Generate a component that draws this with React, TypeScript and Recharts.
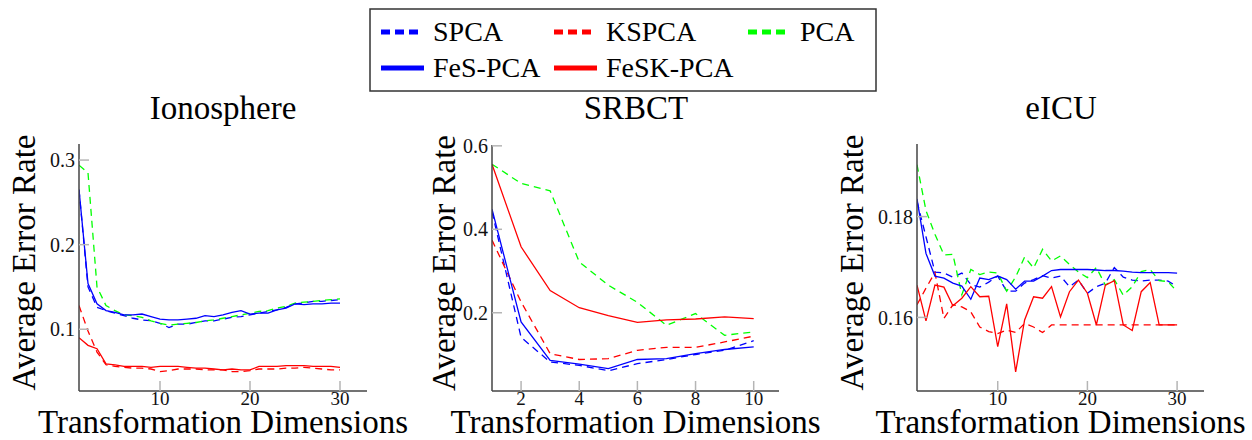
import React from "react";
import { LineChart, Line, XAxis, YAxis } from "recharts";

const FONT = "Liberation Serif, DejaVu Serif, serif";
const BLUE = "#0000ff";
const RED = "#ff0000";
const GREEN = "#00ff00";
const FRAME = "#454545";
const TICK = "#b5b5b5";
const DASH = "7 5";

// transformation dimensions
const dims30 = [1, 2, 3, 4, 5, 6, 7, 8, 9, 10, 11, 12, 13, 14, 15, 16, 17, 18, 19, 20, 21, 22, 23, 24, 25, 26, 27, 28, 29, 30];
const dims10 = [1, 2, 3, 4, 5, 6, 7, 8, 9, 10];

// Ionosphere
const ionoSpca = [0.265, 0.15, 0.126, 0.122, 0.119, 0.116, 0.113, 0.111, 0.11, 0.107, 0.102, 0.106, 0.106, 0.108, 0.11, 0.11, 0.112, 0.114, 0.115, 0.117, 0.119, 0.121, 0.123, 0.126, 0.13, 0.131, 0.133, 0.133, 0.134, 0.135];
const ionoKspca = [0.128, 0.098, 0.073, 0.058, 0.056, 0.055, 0.054, 0.054, 0.053, 0.05, 0.051, 0.053, 0.053, 0.053, 0.052, 0.052, 0.052, 0.05, 0.05, 0.051, 0.053, 0.053, 0.053, 0.054, 0.054, 0.055, 0.054, 0.053, 0.052, 0.052];
const ionoPca = [0.294, 0.285, 0.15, 0.128, 0.122, 0.117, 0.116, 0.114, 0.11, 0.107, 0.105, 0.106, 0.107, 0.108, 0.11, 0.111, 0.113, 0.115, 0.117, 0.119, 0.121, 0.122, 0.125, 0.127, 0.131, 0.132, 0.133, 0.134, 0.135, 0.136];
const ionoFesPca = [0.265, 0.154, 0.13, 0.122, 0.12, 0.117, 0.117, 0.118, 0.115, 0.112, 0.111, 0.111, 0.112, 0.113, 0.116, 0.115, 0.117, 0.12, 0.122, 0.118, 0.119, 0.119, 0.123, 0.125, 0.13, 0.129, 0.13, 0.13, 0.131, 0.131];
const ionoFeskPca = [0.09, 0.081, 0.077, 0.059, 0.058, 0.056, 0.056, 0.056, 0.055, 0.056, 0.056, 0.056, 0.055, 0.054, 0.054, 0.053, 0.052, 0.053, 0.052, 0.052, 0.056, 0.056, 0.056, 0.057, 0.057, 0.057, 0.056, 0.056, 0.056, 0.055];

// SRBCT
const srbctSpca = [0.442, 0.141, 0.082, 0.074, 0.061, 0.078, 0.088, 0.1, 0.11, 0.133];
const srbctKspca = [0.374, 0.226, 0.102, 0.088, 0.09, 0.11, 0.117, 0.117, 0.13, 0.144];
const srbctPca = [0.556, 0.51, 0.492, 0.322, 0.266, 0.225, 0.17, 0.198, 0.146, 0.154];
const srbctFesPca = [0.448, 0.178, 0.086, 0.077, 0.066, 0.088, 0.09, 0.102, 0.112, 0.118];
const srbctFeskPca = [0.556, 0.358, 0.253, 0.212, 0.193, 0.177, 0.183, 0.185, 0.19, 0.186];

// eICU
const eicuSpca = [0.183, 0.176, 0.169, 0.1688, 0.168, 0.1688, 0.1665, 0.166, 0.167, 0.1682, 0.1652, 0.1652, 0.1668, 0.1675, 0.1683, 0.1678, 0.1682, 0.1661, 0.1674, 0.1648, 0.1661, 0.1668, 0.1699, 0.168, 0.1674, 0.1672, 0.1674, 0.1674, 0.1672, 0.1661];
const eicuKspca = [0.1625, 0.1658, 0.1689, 0.1598, 0.1625, 0.1621, 0.1611, 0.1581, 0.1572, 0.1568, 0.1575, 0.157, 0.1588, 0.1581, 0.157, 0.1585, 0.1585, 0.1585, 0.1585, 0.1585, 0.1585, 0.1585, 0.1585, 0.1585, 0.1585, 0.1585, 0.1585, 0.1585, 0.1585, 0.1585];
const eicuPca = [0.1903, 0.1812, 0.1765, 0.1724, 0.1725, 0.1645, 0.1695, 0.1685, 0.169, 0.1688, 0.1652, 0.168, 0.172, 0.1698, 0.1735, 0.1712, 0.1722, 0.1705, 0.169, 0.1679, 0.1699, 0.1664, 0.1675, 0.1644, 0.1661, 0.1691, 0.1695, 0.1673, 0.1671, 0.1651];
const eicuFesPca = [0.1835, 0.1727, 0.1682, 0.1678, 0.1668, 0.1662, 0.1636, 0.1678, 0.1675, 0.1682, 0.1675, 0.1656, 0.1672, 0.1672, 0.1682, 0.1693, 0.1695, 0.1695, 0.1695, 0.1695, 0.1694, 0.1693, 0.1693, 0.1692, 0.169, 0.1689, 0.1689, 0.1689, 0.1689, 0.1688];
const eicuFeskPca = [0.1664, 0.1593, 0.1664, 0.166, 0.1623, 0.1638, 0.1661, 0.1641, 0.1642, 0.1542, 0.1627, 0.1492, 0.1595, 0.1641, 0.1638, 0.1661, 0.1601, 0.1651, 0.1674, 0.1648, 0.1585, 0.1664, 0.1673, 0.1585, 0.1574, 0.1651, 0.1669, 0.1585, 0.1585, 0.1585];

// tick values
const ticks30 = [10, 20, 30];
const ticks10 = [2, 4, 6, 8, 10];
const ionoYTicks = [0.1, 0.2, 0.3];
const srbctYTicks = [0.2, 0.4, 0.6];
const eicuYTicks = [0.16, 0.18];

const legendItems = [
  { name: "SPCA", color: BLUE, dashed: true },
  { name: "KSPCA", color: RED, dashed: true },
  { name: "PCA", color: GREEN, dashed: true },
  { name: "FeS-PCA", color: BLUE, dashed: false },
  { name: "FeSK-PCA", color: RED, dashed: false },
];

const CHART_TOP = 95;
const CHART_H = 345;
const Y_AXIS_W = 45;
const X_AXIS_H = 30;

interface PanelProps {
  dims: number[];
  spca: number[];
  kspca: number[];
  pca: number[];
  fesPca: number[];
  feskPca: number[];
  xDomain: [number, number];
  yDomain: [number, number];
  xTicks: number[];
  yTicks: number[];
  left: number;
  width: number;
  plotLeft: number;
  plotRight: number;
  plotTop: number;
  plotBottom: number;
  labelGap: number;
}

const tickStyle = { fontFamily: FONT, fontSize: 19, fill: "#111" };

const ErrorPanel: React.FC<PanelProps> = (p) => {
  const data = p.dims.map((x, i) => ({
    x,
    spca: p.spca[i],
    kspca: p.kspca[i],
    pca: p.pca[i],
    fesPca: p.fesPca[i],
    feskPca: p.feskPca[i],
  }));
  const margin = {
    top: p.plotTop - CHART_TOP,
    bottom: CHART_TOP + CHART_H - p.plotBottom - X_AXIS_H,
    left: p.plotLeft - p.left - Y_AXIS_W,
    right: p.left + p.width - p.plotRight,
  };
  const plotH = p.plotBottom - p.plotTop;
  const yLabelX = p.plotLeft - p.left - p.labelGap;
  const yLabelY = p.plotTop - CHART_TOP + plotH / 2 - 5;
  const xLabelX = (p.plotLeft + p.plotRight) / 2 - p.left;

  return (
    <div style={{ position: "absolute", left: p.left, top: CHART_TOP, width: p.width, height: CHART_H }}>
      <LineChart width={p.width} height={CHART_H} data={data} margin={margin} style={{ overflow: "visible" }}>
        <XAxis
          xAxisId="b"
          type="number"
          dataKey="x"
          domain={p.xDomain}
          ticks={p.xTicks}
          interval={0}
          allowDataOverflow
          height={X_AXIS_H}
          tickSize={-10}
          tickMargin={11}
          axisLine={{ stroke: FRAME, strokeWidth: 1.5 }}
          tickLine={{ stroke: TICK, strokeWidth: 1.5 }}
          tick={tickStyle}
        />
        <XAxis
          xAxisId="t"
          orientation="top"
          type="number"
          dataKey="x"
          domain={p.xDomain}
          ticks={p.xTicks}
          interval={0}
          allowDataOverflow
          height={0}
          tickSize={-10}
          tickFormatter={() => ""}
          axisLine={{ stroke: FRAME, strokeWidth: 1.5 }}
          tickLine={{ stroke: TICK, strokeWidth: 1.5 }}
        />
        <YAxis
          yAxisId="l"
          type="number"
          domain={p.yDomain}
          ticks={p.yTicks}
          interval={0}
          allowDataOverflow
          width={Y_AXIS_W}
          tickSize={-10}
          tickMargin={14}
          axisLine={{ stroke: FRAME, strokeWidth: 1.5 }}
          tickLine={{ stroke: TICK, strokeWidth: 1.5 }}
          tick={{ ...tickStyle, fontSize: 20 }}
          tickFormatter={(v: number) => String(v)}
        />
        <YAxis
          yAxisId="r"
          orientation="right"
          type="number"
          domain={p.yDomain}
          ticks={p.yTicks}
          interval={0}
          allowDataOverflow
          width={0}
          tickSize={-10}
          tickFormatter={() => ""}
          axisLine={{ stroke: FRAME, strokeWidth: 1.5 }}
          tickLine={{ stroke: TICK, strokeWidth: 1.5 }}
        />
        <Line xAxisId="b" yAxisId="l" type="linear" dataKey="spca" stroke={BLUE} strokeWidth={1.3} strokeDasharray={DASH} dot={false} isAnimationActive={false} />
        <Line xAxisId="b" yAxisId="l" type="linear" dataKey="kspca" stroke={RED} strokeWidth={1.3} strokeDasharray={DASH} dot={false} isAnimationActive={false} />
        <Line xAxisId="b" yAxisId="l" type="linear" dataKey="pca" stroke={GREEN} strokeWidth={1.3} strokeDasharray={DASH} dot={false} isAnimationActive={false} />
        <Line xAxisId="b" yAxisId="l" type="linear" dataKey="fesPca" stroke={BLUE} strokeWidth={1.3} dot={false} isAnimationActive={false} />
        <Line xAxisId="b" yAxisId="l" type="linear" dataKey="feskPca" stroke={RED} strokeWidth={1.3} dot={false} isAnimationActive={false} />
        <text
          x={yLabelX}
          y={yLabelY}
          transform={`rotate(-90 ${yLabelX} ${yLabelY})`}
          textAnchor="middle"
          fontFamily={FONT}
          fontSize={33}
          fill="#000"
        >
          Average Error Rate
        </text>
        <text x={xLabelX} y={338} textAnchor="middle" fontFamily={FONT} fontSize={33} fill="#000">
          Transformation Dimensions
        </text>
      </LineChart>
    </div>
  );
};

const Legend: React.FC = () => {
  // three columns, two rows
  const colX = [11, 184, 378];
  const rowY = [23, 59];
  return (
    <g transform="translate(370 9)">
      <rect x={0} y={0} width={506} height={82} fill="#fff" stroke="#333" strokeWidth={1.5} />
      {legendItems.map((it, i) => {
        const cx = colX[i % 3];
        const cy = rowY[Math.floor(i / 3)];
        return (
          <g key={it.name}>
            <line
              x1={cx}
              x2={cx + (it.dashed ? 38 : 43)}
              y1={cy}
              y2={cy}
              stroke={it.color}
              strokeWidth={5}
              strokeDasharray={it.dashed ? "9 5" : undefined}
            />
            <text x={cx + 52} y={cy + 9} fontFamily={FONT} fontSize={28} fill="#000">
              {it.name}
            </text>
          </g>
        );
      })}
    </g>
  );
};

const titles = [
  { text: "Ionosphere", x: 223 },
  { text: "SRBCT", x: 636 },
  { text: "eICU", x: 1061 },
];

export default function App() {
  return (
    <div style={{ position: "absolute", left: 0, top: 0, width: 1252, height: 440, background: "#fff", overflow: "hidden", fontFamily: FONT }}>
      <ErrorPanel
        dims={dims30}
        spca={ionoSpca}
        kspca={ionoKspca}
        pca={ionoPca}
        fesPca={ionoFesPca}
        feskPca={ionoFeskPca}
        xDomain={[1, 33]}
        yDomain={[0.027, 0.319]}
        xTicks={ticks30}
        yTicks={ionoYTicks}
        left={0}
        width={420}
        plotLeft={79}
        plotRight={367}
        plotTop={144}
        plotBottom={391}
        labelGap={44}
      />
      <ErrorPanel
        dims={dims10}
        spca={srbctSpca}
        kspca={srbctKspca}
        pca={srbctPca}
        fesPca={srbctFesPca}
        feskPca={srbctFeskPca}
        xDomain={[1, 10.87]}
        yDomain={[0.0125, 0.602]}
        xTicks={ticks10}
        yTicks={srbctYTicks}
        left={415}
        width={420}
        plotLeft={492}
        plotRight={779}
        plotTop={145}
        plotBottom={391}
        labelGap={37}
      />
      <ErrorPanel
        dims={dims30}
        spca={eicuSpca}
        kspca={eicuKspca}
        pca={eicuPca}
        fesPca={eicuFesPca}
        feskPca={eicuFeskPca}
        xDomain={[1, 33]}
        yDomain={[0.1454, 0.1944]}
        xTicks={ticks30}
        yTicks={eicuYTicks}
        left={835}
        width={417}
        plotLeft={917}
        plotRight={1204}
        plotTop={144}
        plotBottom={391}
        labelGap={54}
      />
      <svg width={1252} height={440} style={{ position: "absolute", left: 0, top: 0, pointerEvents: "none" }}>
        <Legend />
        {titles.map((t) => (
          <text key={t.text} x={t.x} y={119} textAnchor="middle" fontFamily={FONT} fontSize={33} fill="#000">
            {t.text}
          </text>
        ))}
      </svg>
    </div>
  );
}
